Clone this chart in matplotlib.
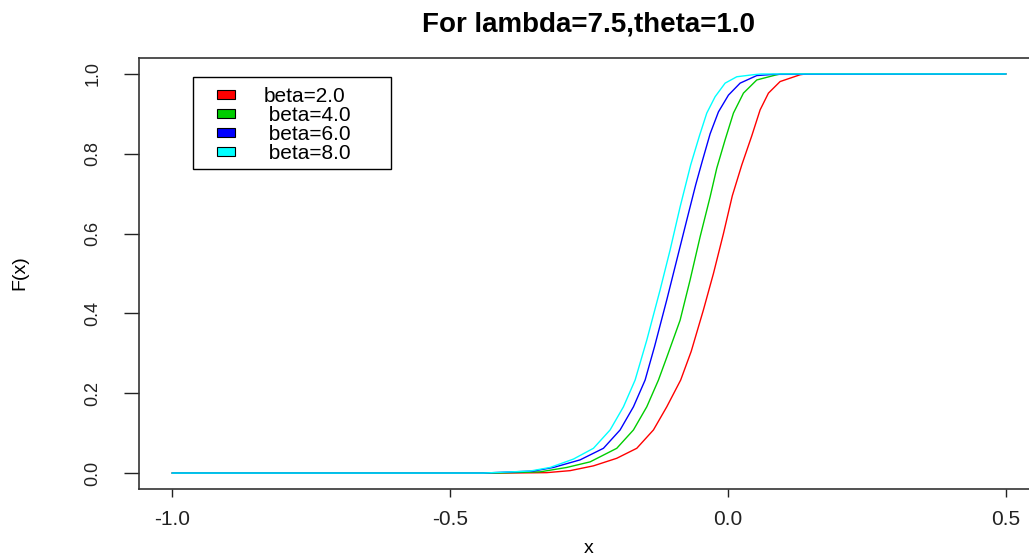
import matplotlib.pyplot as plt
from matplotlib.patches import Patch, Rectangle

plt.rcParams['font.family'] = ['Liberation Sans', 'DejaVu Sans']

# values
x_beta2 = [-1.0, -0.40, -0.326, -0.284, -0.242, -0.200, -0.164, -0.134, -0.110, -0.085,
           -0.066, -0.044, -0.026, -0.008, 0.008, 0.025, 0.043, 0.058, 0.073, 0.094,
           0.130, 0.140, 0.5]
F_beta2 = [0.0, 0.0, 0.001, 0.006, 0.018, 0.037, 0.062, 0.108, 0.166, 0.233,
           0.305, 0.409, 0.500, 0.600, 0.695, 0.772, 0.845, 0.910, 0.952, 0.981,
           0.998, 1.0, 1.0]

x_beta4 = [-1.0, -0.42, -0.338, -0.290, -0.248, -0.200, -0.170, -0.146, -0.125, -0.110,
           -0.086, -0.068, -0.050, -0.032, -0.020, -0.005, 0.010, 0.028, 0.052, 0.085,
           0.095, 0.5]
F_beta4 = [0.0, 0.0, 0.003, 0.014, 0.028, 0.062, 0.108, 0.166, 0.233, 0.290,
           0.383, 0.484, 0.592, 0.692, 0.764, 0.835, 0.902, 0.952, 0.985, 0.997,
           1.0, 1.0]

x_beta6 = [-1.0, -0.44, -0.350, -0.314, -0.266, -0.224, -0.194, -0.170, -0.149, -0.132,
           -0.110, -0.092, -0.074, -0.058, -0.046, -0.032, -0.017, 0.001, 0.022, 0.052,
           0.082, 0.5]
F_beta6 = [0.0, 0.0, 0.005, 0.014, 0.033, 0.062, 0.108, 0.166, 0.233, 0.317,
           0.434, 0.534, 0.634, 0.722, 0.782, 0.850, 0.905, 0.947, 0.977, 0.996,
           0.999, 1.0]

x_beta8 = [-1.0, -0.44, -0.356, -0.320, -0.278, -0.242, -0.212, -0.188, -0.167, -0.146,
           -0.122, -0.104, -0.086, -0.067, -0.051, -0.038, -0.023, -0.005, 0.016, 0.045,
           0.060, 0.5]
F_beta8 = [0.0, 0.0, 0.005, 0.014, 0.035, 0.062, 0.108, 0.166, 0.233, 0.333,
           0.459, 0.559, 0.667, 0.772, 0.846, 0.902, 0.943, 0.977, 0.993, 0.998,
           1.0, 1.0]

labels = ["beta=2.0", " beta=4.0", " beta=6.0", " beta=8.0"]
colors = ["#FF0000", "#00CD00", "#0000FF", "#00FFFF"]
x_ticks = [-1.0, -0.5, 0.0, 0.5]
y_ticks = [0.0, 0.2, 0.4, 0.6, 0.8, 1.0]

W, H = 1029, 558
fig = plt.figure(figsize=(W / 100, H / 100), dpi=100)
ax = fig.add_axes([139 / W, 1 - 489 / H, 900 / W, 431 / H])

series = [(x_beta2, F_beta2), (x_beta4, F_beta4), (x_beta6, F_beta6), (x_beta8, F_beta8)]
for (xs, ys), c in zip(series, colors):
    ax.plot(xs, ys, color=c, lw=1.0)

ax.set_xlim(-1.06, 0.56)
ax.set_ylim(-0.04, 1.04)
ax.set_xticks(x_ticks)
ax.set_xticklabels(["-1.0", "-0.5", "0.0", "0.5"])
ax.set_yticks(y_ticks)
ax.set_yticklabels(["0.0", "0.2", "0.4", "0.6", "0.8", "1.0"], rotation=90, va="center")
ax.tick_params(axis="x", length=6, width=1, pad=9, labelsize=15, colors="#222222")
ax.tick_params(axis="y", length=11, width=1, pad=16, labelsize=13, colors="#222222")
for s in ax.spines.values():
    s.set_color("#333333")
    s.set_linewidth(1.2)

ax.set_title("For lambda=7.5,theta=1.0", fontsize=20, fontweight="bold", pad=19)
fig.text(20 / W, 1 - 273 / H, "F(x)", rotation=90, fontsize=14, ha="center", va="center")
fig.text(589 / W, 1 - 557 / H, "x", fontsize=14, ha="center", va="bottom")

# legend box drawn by hand, entries placed inside it
ax.add_patch(Rectangle((193 / W, 1 - 169 / H), 198 / W, 92 / H,
                       transform=fig.transFigure, facecolor="white",
                       edgecolor="black", lw=1.0, zorder=3, clip_on=False))
handles = [Patch(facecolor=c, edgecolor="black", lw=0.8) for c in colors]
leg = ax.legend(handles, labels, loc="upper left",
                bbox_to_anchor=(217 / W, 1 - 87 / H), bbox_transform=fig.transFigure,
                borderaxespad=0, borderpad=0, fontsize=15, frameon=False,
                labelspacing=0.0, handlelength=0.87, handleheight=0.33,
                handletextpad=1.35)
leg.set_zorder(4)

fig.savefig("out.png", dpi=100)
